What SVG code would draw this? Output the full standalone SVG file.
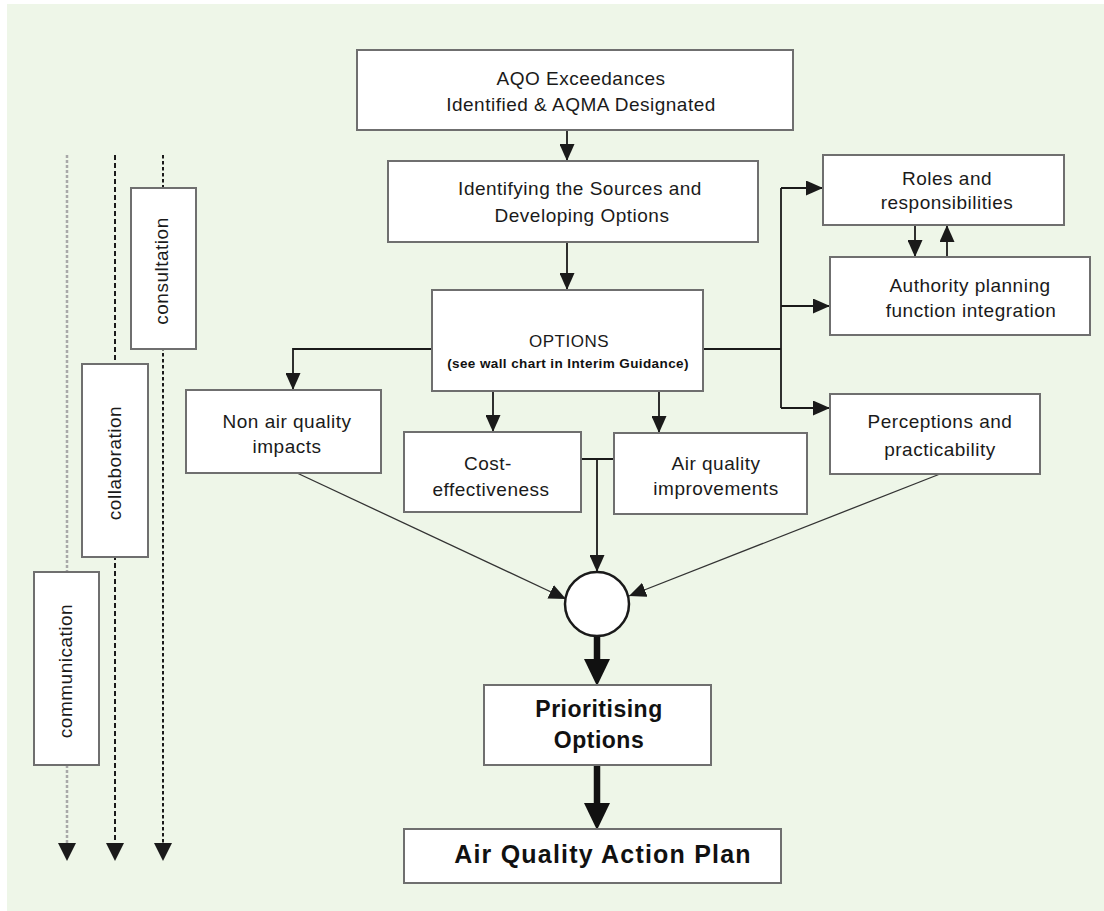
<svg xmlns="http://www.w3.org/2000/svg" width="1104" height="911" viewBox="0 0 1104 911">
<defs>
<style>
.box{fill:#fff;stroke:#6f6f6f;stroke-width:2}
.t{font-family:"Liberation Sans",Arial,sans-serif;font-size:19px;fill:#1a1a1a;text-anchor:middle;letter-spacing:0.5px}
.tb{font-family:"Liberation Sans",Arial,sans-serif;font-weight:bold;fill:#111;text-anchor:middle}
.c{fill:none;stroke:#1a1a1a;stroke-width:1.8}
.d{fill:none;stroke:#333;stroke-width:1.3}
.thick{fill:none;stroke:#111;stroke-width:6.5}
</style>
<marker id="a" markerUnits="userSpaceOnUse" markerWidth="17" markerHeight="15" refX="17" refY="7.5" orient="auto">
<path d="M0,0 L17,7.5 L0,15 z" fill="#1a1a1a"/>
</marker>
<marker id="at" markerUnits="userSpaceOnUse" markerWidth="27" markerHeight="27" refX="0" refY="13" orient="auto">
<path d="M0,0 L27,13 L0,26 z" fill="#111"/>
</marker>
</defs>
<rect x="0" y="0" width="1104" height="911" fill="#fff"/>
<rect x="7" y="4" width="1097" height="907" fill="#EEF6E8"/>

<g id="connectors">
<path class="c" d="M567,130 V161" marker-end="url(#a)"/>
<path class="c" d="M567,242 V290" marker-end="url(#a)"/>
<path class="c" d="M432,349 H293 V390" marker-end="url(#a)"/>
<path class="c" d="M493,391 V432" marker-end="url(#a)"/>
<path class="c" d="M659,391 V433" marker-end="url(#a)"/>
<path class="c" d="M703,349 H781"/>
<path class="c" d="M781,188 V408"/>
<path class="c" d="M781,188 H823" marker-end="url(#a)"/>
<path class="c" d="M781,306 H830" marker-end="url(#a)"/>
<path class="c" d="M781,408 H830" marker-end="url(#a)"/>
<path class="c" d="M915,226 V257" marker-end="url(#a)"/>
<path class="c" d="M947,257 V225" marker-end="url(#a)"/>
<path class="c" d="M581,459 H614"/>
<path class="c" d="M597,459 V572" marker-end="url(#a)"/>
<path class="d" d="M297,473 L566,599" marker-end="url(#a)"/>
<path class="d" d="M940,474 L629,596" marker-end="url(#a)"/>
<path class="thick" d="M597,637 V659" marker-end="url(#at)"/>
<path class="thick" d="M597,765 V803" marker-end="url(#at)"/>
<path d="M67,155 V844" fill="none" stroke="#a8a8a8" stroke-width="2.5" stroke-dasharray="3 2"/>
<path d="M115,155 V844" fill="none" stroke="#1a1a1a" stroke-width="2" stroke-dasharray="5 3"/>
<path d="M163,155 V844" fill="none" stroke="#1a1a1a" stroke-width="2" stroke-dasharray="3.5 2.5"/>
<path d="M58,843 H76 L67,861 z" fill="#1a1a1a"/>
<path d="M106,843 H124 L115,861 z" fill="#1a1a1a"/>
<path d="M154,843 H172 L163,861 z" fill="#1a1a1a"/>
</g>

<g id="n-aqo">
<rect class="box" x="357" y="50" width="436" height="80"/>
<text class="t" x="581" y="85">AQO Exceedances</text>
<text class="t" x="581" y="111">Identified &amp; AQMA Designated</text>
</g>
<g id="n-sources">
<rect class="box" x="388" y="161" width="370" height="81"/>
<text class="t" x="580" y="195">Identifying the Sources and</text>
<text class="t" x="582" y="222">Developing Options</text>
</g>
<g id="n-options">
<rect class="box" x="432" y="290" width="271" height="101"/>
<text class="t" x="569" y="347" style="font-size:17px;letter-spacing:0.5px">OPTIONS</text>
<text class="tb" x="568" y="368" style="font-size:13.5px;letter-spacing:0.4px">(see wall chart in Interim Guidance)</text>
</g>
<g id="n-roles">
<rect class="box" x="823" y="155" width="241" height="70"/>
<text class="t" x="947" y="185">Roles and</text>
<text class="t" x="947" y="209">responsibilities</text>
</g>
<g id="n-authority">
<rect class="box" x="830" y="257" width="260" height="78"/>
<text class="t" x="970" y="292">Authority planning</text>
<text class="t" x="971" y="317">function integration</text>
</g>
<g id="n-perceptions">
<rect class="box" x="830" y="394" width="210" height="80"/>
<text class="t" x="940" y="428">Perceptions and</text>
<text class="t" x="940" y="456">practicability</text>
</g>
<g id="n-nonair">
<rect class="box" x="186" y="390" width="195" height="83"/>
<text class="t" x="287" y="428">Non air quality</text>
<text class="t" x="287" y="453">impacts</text>
</g>
<g id="n-cost">
<rect class="box" x="404" y="432" width="177" height="80"/>
<text class="t" x="488" y="470">Cost-</text>
<text class="t" x="491" y="496">effectiveness</text>
</g>
<g id="n-aqimp">
<rect class="box" x="614" y="433" width="193" height="81"/>
<text class="t" x="716" y="470">Air quality</text>
<text class="t" x="716" y="495">improvements</text>
</g>
<g id="n-merge">
<circle cx="597" cy="604" r="32" fill="#fff" stroke="#1a1a1a" stroke-width="2.5"/>
</g>
<g id="n-prioritising">
<rect class="box" x="484" y="685" width="227" height="80"/>
<text class="tb" x="599" y="717" style="font-size:23px;letter-spacing:0.5px">Prioritising</text>
<text class="tb" x="599" y="748" style="font-size:23px;letter-spacing:0.5px">Options</text>
</g>
<g id="n-plan">
<rect class="box" x="404" y="829" width="377" height="54"/>
<text class="tb" x="603" y="863" style="font-size:25px;letter-spacing:1.2px">Air Quality Action Plan</text>
</g>
<g id="n-consultation">
<rect class="box" x="131" y="188" width="65" height="161"/>
<text class="t" transform="translate(162,271) rotate(-90)" x="0" y="6">consultation</text>
</g>
<g id="n-collaboration">
<rect class="box" x="82" y="364" width="66" height="193"/>
<text class="t" transform="translate(115,463) rotate(-90)" x="0" y="6">collaboration</text>
</g>
<g id="n-communication">
<rect class="box" x="34" y="572" width="65" height="193"/>
<text class="t" transform="translate(66,671) rotate(-90)" x="0" y="6">communication</text>
</g>
</svg>
